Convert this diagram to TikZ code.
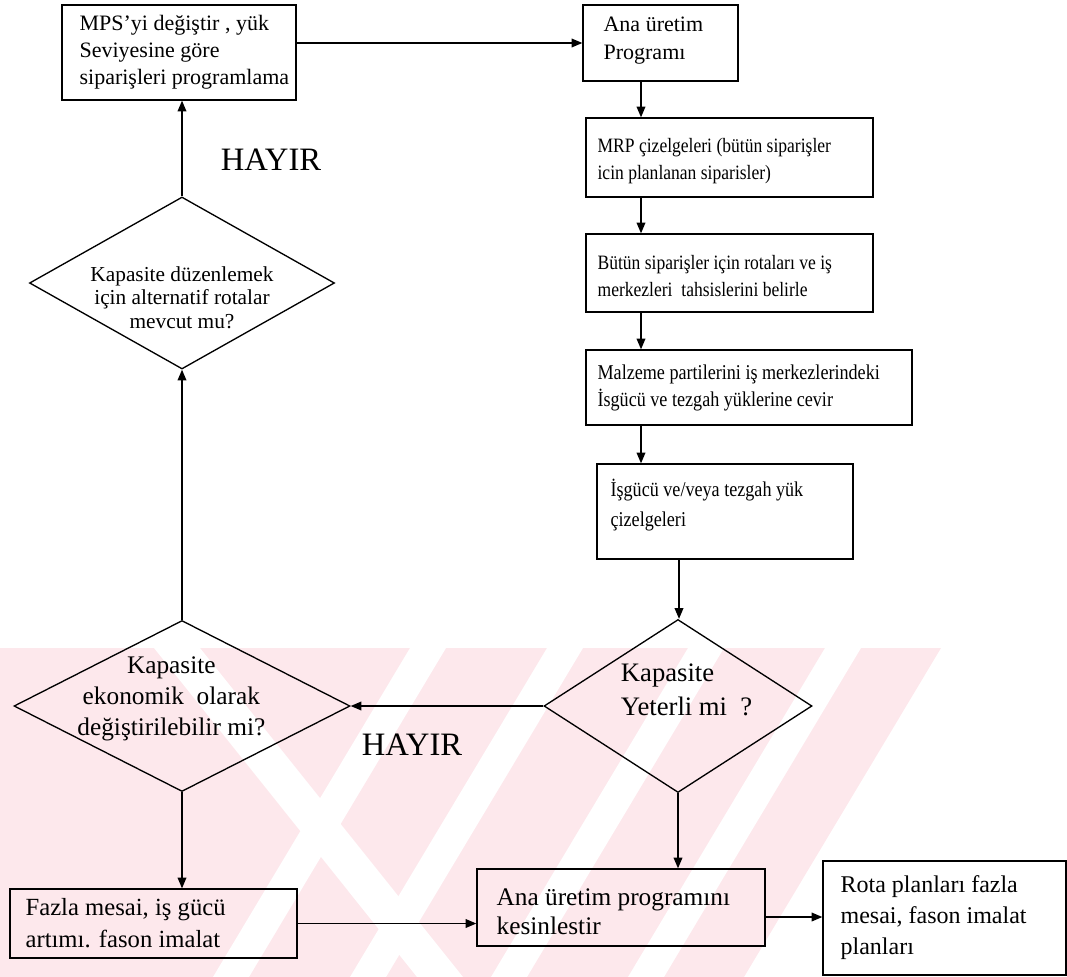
\documentclass[tikz,border=0pt]{standalone}
\usepackage{fontspec}
\setmainfont{Liberation Serif}
\newfontfamily\condf[FakeStretch=0.86]{Liberation Serif}
\usetikzlibrary{arrows.meta,shapes.geometric}
\newcommand{\fs}[2]{\fontsize{#1}{#2}\selectfont}
\definecolor{wm}{RGB}{253,232,236}
\begin{document}
\begin{tikzpicture}[x=0.75pt,y=-0.75pt,
  box/.style={draw,rectangle,line width=1pt,inner sep=0pt},
  dia/.style={draw,diamond,line width=1pt,inner sep=0pt},
  txt/.style={align=left,inner sep=0pt,anchor=west},
  dtxt/.style={align=center,inner sep=0pt},
  lab/.style={inner sep=0pt,font=\fs{24.5}{28}},
  arr/.style={line width=1pt,-{Triangle[length=8pt,width=6.5pt]}}
]
\useasboundingbox (0,0) rectangle (1067,977);

% background watermark stripes
\begin{scope}
\clip (0,648) -- (941,648) -- (744,977) -- (0,977) -- cycle;
\fill[wm] (0,648) rectangle (1067,977);
\fill[white] (154,648) -- (200,648) -- (463,977) -- (417,977) -- cycle;
\foreach \a in {410,547,688,825}
  \fill[white] (\a,648) -- (\a+36,648) -- (\a-161,977) -- (\a-197,977) -- cycle;
\end{scope}

% boxes
\node[box,minimum width=175.5pt,minimum height=71.25pt] (b1) at (179,52.5) {};
\node[txt,xshift=13.5pt,font=\fs{16.5}{20.25}] (b1t) at (b1.west) {MPS’yi değiştir , yük\\Seviyesine göre\\siparişleri programlama};

\node[box,minimum width=116.25pt,minimum height=57pt] (b2) at (660.5,43) {};
\node[txt,xshift=15.75pt,yshift=2pt,font=\fs{16.5}{21}] (b2t) at (b2.west) {Ana üretim\\Programı};

\node[box,minimum width=215.25pt,minimum height=59.25pt] (b3) at (729.5,157.5) {};
\node[txt,xshift=9pt,yshift=-3pt,font=\condf\fs{15.3}{20.25}] (b3t) at (b3.west) {MRP çizelgeleri (bütün siparişler\\icin planlanan siparisler)};

\node[box,minimum width=215.25pt,minimum height=58.5pt] (b4) at (729.5,273) {};
\node[txt,xshift=9pt,yshift=-2pt,font=\condf\fs{15.3}{20.25}] (b4t) at (b4.west) {Bütün siparişler için rotaları ve iş\\merkezleri\ \ tahsislerini belirle};

\node[box,minimum width=244.5pt,minimum height=56.25pt] (b5) at (749,387.5) {};
\node[txt,xshift=9pt,font=\condf\fs{15.8}{20.25}] (b5t) at (b5.west) {Malzeme partilerini iş merkezlerindeki\\İsgücü ve tezgah yüklerine cevir};

\node[box,minimum width=192pt,minimum height=71.25pt] (b6) at (725,511.5) {};
\node[txt,xshift=10.5pt,yshift=5pt,font=\condf\fs{15.8}{22.5}] (b6t) at (b6.west) {İşgücü ve/veya tezgah yük\\çizelgeleri};

\node[box,minimum width=215.25pt,minimum height=51.75pt] (b7) at (153.5,923.5) {};
\node[txt,xshift=12pt,font=\fs{18.5}{24}] (b7t) at (b7.west) {Fazla mesai, iş gücü\\artımı. fason imalat};

\node[box,minimum width=216pt,minimum height=57.75pt] (b8) at (621,907.5) {};
\node[txt,xshift=15pt,yshift=-3pt,font=\fs{19}{22}] (b8t) at (b8.west) {Ana üretim programını\\kesinlestir};

\node[box,minimum width=182.25pt,minimum height=85.5pt] (b9) at (944.5,918) {};
\node[txt,xshift=13.5pt,font=\fs{18}{23.25}] (b9t) at (b9.west) {Rota planları fazla\\mesai, fason imalat\\planları};

% diamonds
\node[dia,minimum width=228.75pt,minimum height=129pt] (dU) at (182,283) {};
\node[dtxt,yshift=-11pt,font=\fs{16}{17.5}] (dUt) at (dU.center) {Kapasite düzenlemek\\için alternatif rotalar\\mevcut mu?};

\node[dia,minimum width=252pt,minimum height=128.25pt] (dL) at (182,706) {};
\node[dtxt,xshift=-8pt,yshift=5pt,font=\fs{19}{23.25}] (dLt) at (dL.center) {Kapasite\\ekonomik\ \ olarak\\değiştirilebilir mi?};

\node[dia,minimum width=201pt,minimum height=129.75pt] (dR) at (678,706) {};
\node[txt,xshift=58pt,yshift=12pt,font=\fs{20}{25.5}] (dRt) at (dR.west) {Kapasite\\Yeterli mi\ \ ?};

% labels
\node[lab] (h1) at (271,160) {HAYIR};
\node[lab] (h2) at (412,745) {HAYIR};

% connectors
\coordinate (colA) at (641,0);
\coordinate (colB) at (679,0);
\coordinate (rowB) at (0,917);
\draw[arr] (b2.west -| b1.east) -- (b2.west);
\draw[arr] (b2.south -| colA) -- (b3.north -| colA);
\draw[arr] (b3.south -| colA) -- (b4.north -| colA);
\draw[arr] (b4.south -| colA) -- (b5.north -| colA);
\draw[arr] (b5.south -| colA) -- (b6.north -| colA);
\draw[arr] (b6.south -| colB) -- (dR.north -| colB);
\draw[arr] (dR.west) -- (dL.east);
\draw[arr] (dR.south) -- (dR.south |- b8.north);
\draw[arr] (dL.south) -- (dL.south |- b7.north);
\draw[arr] (dL.north) -- (dU.south);
\draw[arr] (dU.north) -- (dU.north |- b1.south);
\draw[arr] (b7.east) -- (b7.east -| b8.west);
\draw[arr] (rowB -| b8.east) -- (rowB -| b9.west);
\end{tikzpicture}
\end{document}
